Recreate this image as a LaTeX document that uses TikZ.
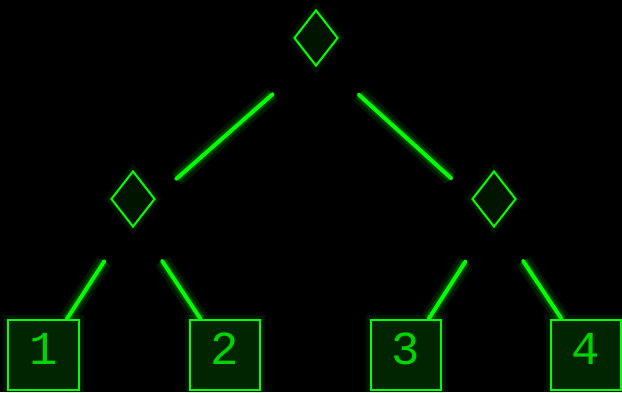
\documentclass[tikz,border=0pt]{standalone}
\usepackage{fontspec}
\usepackage{tikz}
\usetikzlibrary{shapes.geometric}
\newfontfamily\digitFont{Liberation Mono}
\definecolor{neonGreen}{HTML}{00FF00}
\definecolor{lineGreen}{HTML}{00FF00}
\definecolor{diamondFill}{HTML}{001400}
\definecolor{boxFill}{HTML}{012401}
\definecolor{digitGreen}{HTML}{00D400}

\begin{document}
\begin{tikzpicture}[x=1bp,y=1bp,
  glow/.style={preaction={draw=lineGreen,opacity=0.10,line width=16bp},
               preaction={draw=lineGreen,opacity=0.18,line width=9bp}},
  halo/.style={preaction={draw=lineGreen,opacity=0.08,line width=10bp}},
  branch/.style={draw=lineGreen,line width=4bp,line cap=round},
  choice/.style={diamond,draw=neonGreen,fill=diamondFill,line width=2bp,
                 inner sep=0pt,minimum width=44bp,minimum height=56bp},
  leaf/.style={rectangle,draw=neonGreen,fill=boxFill,line width=2bp,
               minimum width=70bp,minimum height=70bp,text=digitGreen,
               font=\digitFont\fontsize{47.5}{47.5}\selectfont,
               text height=36bp,text depth=18bp}]
\path[use as bounding box,fill=black] (0,0) rectangle (622,392);
% karar dugumleri
\node[choice,halo] (root) at (316,354) {};
\node[choice,halo] (left) at (133,193) {};
\node[choice,halo] (right) at (494,193) {};
% yapraklar
\node[leaf,halo] (one) at (43.5,37) {1};
\node[leaf,halo] (two) at (224.5,37) {2};
\node[leaf,halo] (three) at (405.5,37) {3};
\node[leaf,halo] (four) at (585.5,37) {4};
% dallar
\draw[branch,glow,shorten <=58bp,shorten >=58bp] ([yshift=-18bp]root.center) -- ([yshift=-18bp]left.center);
\draw[branch,glow,shorten <=58bp,shorten >=58bp] ([yshift=-18bp]root.center) -- ([yshift=-18bp]right.center);
\draw[branch,glow,shorten <=53bp] ([yshift=-18bp]left.center) -- (one);
\draw[branch,glow,shorten <=53bp] ([yshift=-18bp]left.center) -- (two);
\draw[branch,glow,shorten <=53bp] ([yshift=-18bp]right.center) -- (three);
\draw[branch,glow,shorten <=53bp] ([yshift=-18bp]right.center) -- (four);
\end{tikzpicture}
\end{document}
